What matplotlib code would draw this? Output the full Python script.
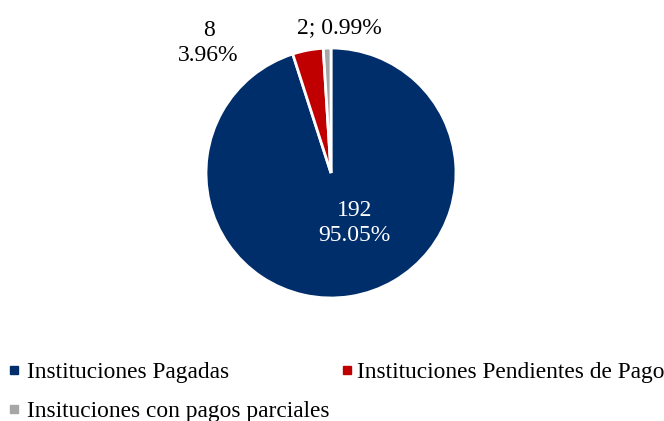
import matplotlib
matplotlib.use("Agg")
import matplotlib.pyplot as plt
from matplotlib.lines import Line2D

categories = ["Instituciones Pagadas", "Instituciones Pendientes de Pago", "Insituciones con pagos parciales"]
values = [192, 8, 2]
percents = ["95.05%", "3.96%", "0.99%"]
colors = ["#002E6B", "#C00000", "#A6A6A6"]

plt.rcParams['font.family'] = ['Liberation Serif', 'DejaVu Serif']

fig = plt.figure(figsize=(6.64, 4.21), dpi=100)
ax = fig.add_axes([206/664, (421-298)/421, 250/664, 250/421])
ax.pie(values, colors=colors, startangle=90, counterclock=False,
       wedgeprops=dict(edgecolor='white', linewidth=2))
ax.set_aspect('equal')
ax.set_xlim(-1, 1)
ax.set_ylim(-1, 1)

ax.text(0.19, -0.40, f"{values[0]}\n{percents[0]}", color='white', fontsize=17,
        ha='center', va='center', linespacing=1.2)
ax.text(-0.98, 1.04, f"{values[1]}\n{percents[1]}", color='black', fontsize=17,
        ha='center', va='center', linespacing=1.2, clip_on=False)
ax.text(0.07, 1.16, f"{values[2]}; {percents[2]}", color='black', fontsize=17,
        ha='center', va='center', clip_on=False)

def handle(c):
    return Line2D([0], [0], marker='s', linestyle='none', markersize=6,
                  markerfacecolor=c, markeredgecolor=c)

kw = dict(loc='upper left', frameon=False, fontsize=16.8, handlelength=0.5,
          handletextpad=0.3, labelspacing=0.74, borderaxespad=0, borderpad=0.3)
leg1 = fig.legend([handle(colors[0]), handle(colors[2])], [categories[0], categories[2]],
                  bbox_to_anchor=(0.002, 0.157), **kw)
leg2 = fig.legend([handle(colors[1])], [categories[1]],
                  bbox_to_anchor=(0.503, 0.157), **dict(kw, handletextpad=0.2))

fig.savefig("out.png", dpi=100)
